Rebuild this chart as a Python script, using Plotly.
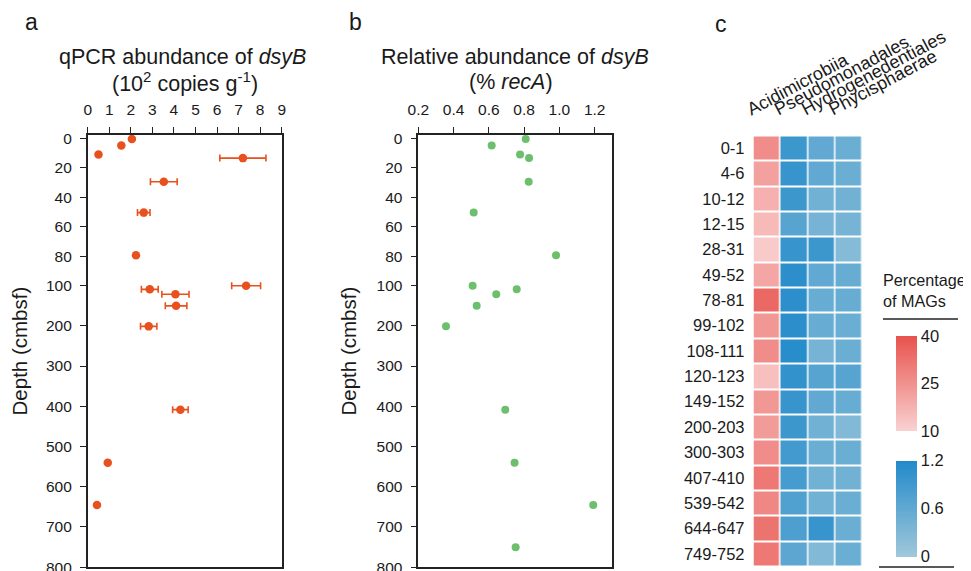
import plotly.graph_objects as go

# page body has an 8px margin: the figure is drawn 8px in from the window's top-left
OFF = 8
W, H = 971 - OFF, 571 - OFF

# ---------------- data ----------------
depth_a = [0.5, 5, 11, 13.5, 29.5, 50.5, 79.5, 100.5, 109.5, 121.5, 150.5, 201.5, 408.5, 540.5, 645.5]
qpcr = [2.05, 1.56, 0.5, 7.2, 3.53, 2.6, 2.24, 7.35, 2.88, 4.07, 4.1, 2.83, 4.3, 0.93, 0.43]
qpcr_err = [0, 0, 0, 1.07, 0.62, 0.29, 0, 0.67, 0.39, 0.63, 0.5, 0.38, 0.36, 0, 0]

depth_b = [0.5, 5, 11, 13.5, 29.5, 50.5, 79.5, 100.5, 109.5, 121.5, 150.5, 201.5, 408.5, 540.5, 645.5, 750.5]
rel_recA = [0.809, 0.616, 0.777, 0.828, 0.826, 0.514, 0.981, 0.508, 0.758, 0.642, 0.531, 0.357, 0.693, 0.746, 1.192, 0.752]

depth_ticks = [0, 20, 40, 60, 80, 100, 200, 300, 400, 500, 600, 700, 800]
qpcr_ticks = [0, 1, 2, 3, 4, 5, 6, 7, 8, 9]
rel_ticks = [0.2, 0.4, 0.6, 0.8, 1.0, 1.2]
rel_ticktext = ["0.2", "0.4", "0.6", "0.8", "1.0", "1.2"]

intervals = ["0-1", "4-6", "10-12", "12-15", "28-31", "49-52", "78-81", "99-102", "108-111",
             "120-123", "149-152", "200-203", "300-303", "407-410", "539-542", "644-647", "749-752"]
taxa_red = ["Acidimicrobiia"]
taxa_blue = ["Pseudomonadales", "Hydrogenedentiales", "Phycisphaerae"]
acidimicrobiia = [26.2, 21.4, 17.9, 15.5, 11.9, 20.2, 34.5, 23.8, 26.2, 14.3, 23.8, 22.6, 26.2, 31, 27.4, 32.1, 31]
pseudomonadales = [0.95, 1.0, 0.95, 0.7, 1.0, 1.1, 1.1, 1.1, 1.15, 1.05, 1.0, 0.95, 0.9, 0.85, 0.75, 0.8, 0.65]
hydrogenedentiales = [0.6, 0.6, 0.45, 0.4, 0.95, 0.6, 0.55, 0.55, 0.4, 0.7, 0.6, 0.45, 0.5, 0.45, 0.45, 1.0, 0.3]
phycisphaerae = [0.5, 0.5, 0.45, 0.4, 0.25, 0.55, 0.55, 0.5, 0.5, 0.7, 0.55, 0.3, 0.5, 0.45, 0.5, 0.5, 0.5]


# piecewise depth axis: 0-100 stretched, 100-800 compressed
K = 40.35 / 147.7


def depth_scale(d):
    return d if d <= 100 else 100 + (d - 100) * K


def px(x):
    return (x - OFF) / W


def py(y):
    return 1 - (y - OFF) / H


FONT = "Arial, Liberation Sans, sans-serif"
TXT = "#1a1a1a"

fig = go.Figure()

fig.add_trace(go.Scatter(
    x=qpcr, y=[depth_scale(d) for d in depth_a], mode="markers",
    marker=dict(color="#E8501E", size=8.5),
    error_x=dict(type="data", array=qpcr_err, color="#E8501E", thickness=1.6, width=3.5),
    xaxis="x", yaxis="y", showlegend=False, cliponaxis=False))

fig.add_trace(go.Scatter(
    x=rel_recA, y=[depth_scale(d) for d in depth_b], mode="markers",
    marker=dict(color="#6DBF6D", size=8),
    xaxis="x2", yaxis="y2", showlegend=False, cliponaxis=False))

fig.add_trace(go.Heatmap(
    x=taxa_red, y=intervals, z=[[v] for v in acidimicrobiia],
    zmin=10, zmax=40, xgap=1.5, ygap=2,
    colorscale=[[0, "rgb(249,210,210)"], [1, "rgb(232,82,76)"]],
    colorbar=dict(x=px(896), xanchor="left", y=py(383.5), yanchor="middle",
                  lenmode="pixels", len=95, thicknessmode="pixels", thickness=21,
                  xpad=0, ypad=0, outlinewidth=0, tickvals=[10, 25, 40], ticks="",
                  ticklabeloverflow="allow",
                  tickfont=dict(size=16.5, color=TXT, family=FONT)),
    xaxis="x3", yaxis="y3"))

fig.add_trace(go.Heatmap(
    x=taxa_blue, y=intervals,
    z=[[a, b, c] for a, b, c in zip(pseudomonadales, hydrogenedentiales, phycisphaerae)],
    zmin=0, zmax=1.2, xgap=1.5, ygap=2,
    colorscale=[[0, "rgb(160,200,218)"], [1, "rgb(34,138,202)"]],
    colorbar=dict(x=px(896), xanchor="left", y=py(508.7), yanchor="middle",
                  lenmode="pixels", len=96, thicknessmode="pixels", thickness=21,
                  xpad=0, ypad=0, outlinewidth=0, tickvals=[0, 0.6, 1.2], ticks="",
                  ticklabeloverflow="allow",
                  tickfont=dict(size=16.5, color=TXT, family=FONT)),
    xaxis="x3", yaxis="y3"))

ytop, ybot = 135, 567.2
yrange = [depth_scale(800), -2.2]

common_y = dict(range=yrange, tickvals=[depth_scale(v) for v in depth_ticks],
                ticktext=[str(v) for v in depth_ticks], ticks="outside", ticklen=6,
                tickwidth=1.3, tickcolor="#222", showline=True, linewidth=1.6, linecolor="#222",
                mirror=True, showgrid=False, zeroline=False, ticklabelstandoff=5,
                ticklabeloverflow="allow",
                tickfont=dict(size=15.5, color=TXT, family=FONT),
                title=dict(text="Depth (cmbsf)", font=dict(size=20.5, color=TXT, family=FONT), standoff=14),
                domain=[py(ybot), py(ytop)], automargin=False)

common_x = dict(side="top", ticks="outside", ticklen=6, tickwidth=1.3, tickcolor="#222",
                showline=True, linewidth=1.6, linecolor="#222", mirror=True, showgrid=False,
                zeroline=False, ticklabelstandoff=6, ticklabeloverflow="allow",
                tickfont=dict(size=15.5, color=TXT, family=FONT), automargin=False)

fig.update_layout(
    width=W, height=H, margin=dict(l=0, r=0, t=0, b=0, autoexpand=False),
    paper_bgcolor="white", plot_bgcolor="white",
    font=dict(family=FONT, color=TXT),
    xaxis=dict(common_x, range=[0, 9], tickvals=qpcr_ticks, domain=[px(87.7), px(281.7)], anchor="y"),
    yaxis=dict(common_y, anchor="x"),
    xaxis2=dict(common_x, range=[0.2, 1.3], tickvals=rel_ticks, ticktext=rel_ticktext,
                domain=[px(418.3), px(612.3)], anchor="y2"),
    yaxis2=dict(common_y, anchor="x2"),
    xaxis3=dict(type="category", side="top", domain=[px(753.5), px(862.5)], anchor="y3", showline=False,
                ticks="", showgrid=False, zeroline=False, tickangle=-28, automargin=False,
                ticklabelstandoff=14, ticklabelshift=-20, ticklabeloverflow="allow",
                categoryorder="array", categoryarray=taxa_red + taxa_blue,
                tickfont=dict(size=18, color=TXT, family=FONT)),
    yaxis3=dict(type="category", domain=[py(566.5), py(135.5)], anchor="x3", autorange="reversed",
                showline=False, ticks="", showgrid=False, zeroline=False, automargin=False,
                ticklabelstandoff=8, ticklabeloverflow="allow",
                categoryorder="array", categoryarray=intervals,
                tickfont=dict(size=16.5, color=TXT, family=FONT)),
)

annots = [
    dict(x=px(31.5), y=py(22), text="a", font=dict(size=23)),
    dict(x=px(355), y=py(22), text="b", font=dict(size=23)),
    dict(x=px(721), y=py(24), text="c", font=dict(size=23)),
    dict(x=px(182), y=py(57), text="qPCR abundance of <i>dsyB</i>", font=dict(size=21.5)),
    dict(x=px(185), y=py(82), text="(10<sup>2</sup> copies g<sup>-1</sup>)", font=dict(size=21.5)),
    dict(x=px(515), y=py(57), text="Relative abundance of <i>dsyB</i>", font=dict(size=21.5)),
    dict(x=px(511), y=py(82), text="(% <i>recA</i>)", font=dict(size=21.5)),
]
for a in annots:
    a.update(xref="paper", yref="paper", showarrow=False, xanchor="center", yanchor="middle")
    a["font"].update(color=TXT, family=FONT)
    fig.add_annotation(**a)

fig.add_annotation(x=px(881), y=py(290), xref="paper", yref="paper", showarrow=False,
                   xanchor="left", yanchor="middle", align="left",
                   text="Percentage<br>of MAGs", font=dict(size=16.2, color=TXT, family=FONT))

fig.add_shape(type="line", xref="paper", yref="paper", x0=px(883), x1=px(958), y0=py(319), y1=py(319),
              line=dict(color="#222", width=1.5))
fig.add_shape(type="line", xref="paper", yref="paper", x0=px(879), x1=px(954), y0=py(567), y1=py(567),
              line=dict(color="#222", width=1.5))

fig.write_html("out.html")
